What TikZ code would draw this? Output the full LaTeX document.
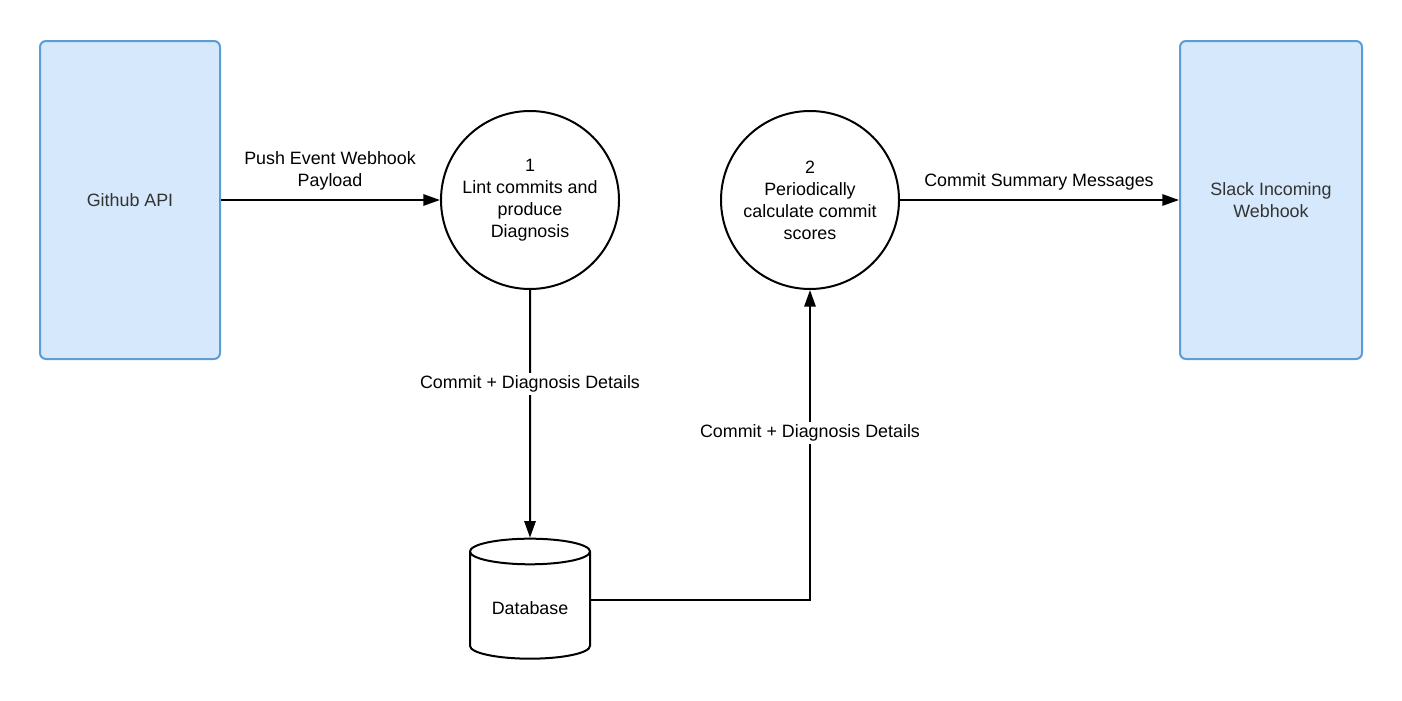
\documentclass[tikz,border=0pt]{standalone}
\usepackage{fontspec}
\setmainfont{Liberation Sans}
\usepackage{tikz}
\usetikzlibrary{arrows.meta}
\usetikzlibrary{shapes.geometric}
\usepackage{xcolor}

\definecolor{boxfill}{RGB}{214,232,252}
\definecolor{boxline}{RGB}{94,156,212}
\definecolor{boxtext}{RGB}{51,51,51}

\begin{document}
\begin{tikzpicture}[x=0.75pt,y=0.75pt,yscale=-1,
        every node/.style={font=\fontsize{13.4}{16.5}\selectfont},
        endpoint/.style={draw=boxline,fill=boxfill,line width=1.5pt,rounded corners=4.5pt,text=boxtext,align=center,minimum height=238.5pt},
        process/.style={circle,draw,line width=1.5pt,minimum size=133.5pt,align=center,inner sep=0pt},
        store/.style={cylinder,shape border rotate=90,draw,line width=1.5pt,aspect=0.3,minimum width=90pt,minimum height=90pt},
        flow/.style={line width=1.5pt,-{Triangle[length=12.5pt,width=8.5pt]}},
        flowlabel/.style={fill=white,inner sep=2pt,align=center}]
        \useasboundingbox (0,0) rectangle (1402,700);

        %Shape: Rectangle [id:github]
        \node [endpoint,minimum width=135pt] (github) at (130,200) {Github API};
        %Shape: Rectangle [id:slack]
        \node [endpoint,minimum width=136.5pt] (slack) at (1271,200) {Slack Incoming\\Webhook};
        %Shape: Circle [id:lint]
        \node [process] (lint) at (530,200) {1\\Lint commits and\\produce\\Diagnosis};
        %Shape: Circle [id:score]
        \node [process] (score) at (810,200) {2\\Periodically\\calculate commit\\scores};
        %Shape: Can [id:db]
        \node [store] (db) at (530,608) {Database};

        %Straight Lines [id:push]
        \draw [flow] (github) -- (lint);
        %Straight Lines [id:save]
        \draw [flow] (lint) -- (db) node [flowlabel,pos=0.38] (savelbl) {Commit + Diagnosis Details};
        %Straight Lines [id:load]
        \draw [flow] (db.east |- 0,600) -| (score) node [flowlabel,pos=0.77] (loadlbl) {Commit + Diagnosis Details};
        %Straight Lines [id:notify]
        \draw [flow] (score) -- (slack);

        % Text Node
        \node [flowlabel] (pushlbl) at (330,171) {Push Event Webhook\\Payload};
        % Text Node
        \node [flowlabel] (notifylbl) at (1039,182) {Commit Summary Messages};
\end{tikzpicture}
\end{document}
